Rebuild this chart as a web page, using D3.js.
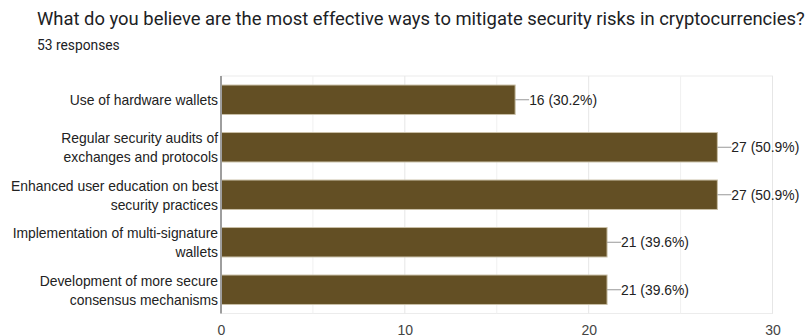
<!DOCTYPE html>
<html>
<head>
<meta charset="utf-8">
<script src="https://cdn.jsdelivr.net/npm/d3@7"></script>
<style>
  html, body { margin: 0; padding: 0; background: #fff; }
  svg { display: block; }
</style>
</head>
<body>
<svg id="chart" width="811" height="336"></svg>
<script>
const titleText = "What do you believe are the most effective ways to mitigate security risks in cryptocurrencies?";
const subtitleText = "53 responses";
const categories = [
  ["Use of hardware wallets"],
  ["Regular security audits of", "exchanges and protocols"],
  ["Enhanced user education on best", "security practices"],
  ["Implementation of multi-signature", "wallets"],
  ["Development of more secure", "consensus mechanisms"]
];
const counts = [16, 27, 27, 21, 21];
const percents = ["30.2%", "50.9%", "50.9%", "39.6%", "39.6%"];
const xTicks = [0, 10, 20, 30];
const gridTicks = [0, 5, 10, 15, 20, 25, 30];

const svg = d3.select("#chart");
const plot = { left: 221, right: 772.5, top: 76, bottom: 313.5 };
const labelFont = "Arial, 'Liberation Sans', sans-serif";

const x = d3.scaleLinear().domain([0, 30]).range([plot.left, plot.right]);
const y = d3.scaleBand().domain(d3.range(categories.length))
  .range([plot.top, plot.bottom]).paddingInner(0.38).paddingOuter(0.19);

// Title block: size the title so it spans the header width
const title = svg.append("text").attr("x", 37).attr("y", 25)
  .attr("font-family", "Roboto, sans-serif").attr("font-size", 18)
  .attr("fill", "#202124").text(titleText);
const titleWidth = title.node().getComputedTextLength();
title.attr("font-size", Math.min(19, 18 * 768 / titleWidth));
svg.append("text").attr("x", 37).attr("y", 50)
  .attr("font-family", "Roboto, sans-serif").attr("font-size", 13.8)
  .attr("fill", "#202124").text(subtitleText);

// Plot frame and grid
svg.append("rect").attr("x", plot.left).attr("y", plot.top)
  .attr("width", plot.right - plot.left).attr("height", plot.bottom - plot.top)
  .attr("fill", "none").attr("stroke", "#ececec").attr("stroke-width", 1);
svg.append("g").selectAll("line").data(gridTicks.slice(1)).join("line")
  .attr("x1", d => x(d)).attr("x2", d => x(d))
  .attr("y1", plot.top).attr("y2", plot.bottom)
  .attr("stroke", d => d % 10 === 0 ? "#e6e6e6" : "#f0f0f0").attr("stroke-width", 1);

// Bottom axis labels
const xAxis = d3.axisBottom(x).tickValues(xTicks).tickSize(0).tickPadding(6);
const gx = svg.append("g").attr("transform", `translate(0,${plot.bottom + 1})`).call(xAxis);
gx.select(".domain").remove();
gx.selectAll("text").attr("font-family", labelFont)
  .attr("font-size", 14).attr("fill", "#444").attr("dy", "1.0em");

// Bars
const bars = svg.append("g");
bars.selectAll("rect").data(counts).join("rect")
  .attr("x", x(0)).attr("y", (d, i) => y(i))
  .attr("width", d => x(d) - x(0)).attr("height", y.bandwidth())
  .attr("fill", "#634f24").attr("stroke", "#c9bfa6").attr("stroke-width", 1);

// Category labels
const labels = svg.append("g").attr("font-family", labelFont)
  .attr("font-size", 13.9).attr("fill", "#222").attr("text-anchor", "end");
categories.forEach((lines, i) => {
  const cy = y(i) + y.bandwidth() / 2;
  const lh = 18.6;
  const t = labels.append("text").attr("x", plot.left - 3);
  lines.forEach((ln, j) => {
    t.append("tspan").attr("x", plot.left - 3)
      .attr("y", cy + (j - (lines.length - 1) / 2) * lh + 5.5).text(ln);
  });
});

// Value annotations with leader lines
const ann = svg.append("g");
counts.forEach((d, i) => {
  const cy = y(i) + y.bandwidth() / 2;
  ann.append("line").attr("x1", x(d)).attr("x2", x(d) + 14)
    .attr("y1", cy).attr("y2", cy).attr("stroke", "#999").attr("stroke-width", 1);
  ann.append("text").attr("x", x(d) + 14).attr("y", cy + 5)
    .attr("font-family", labelFont).attr("font-size", 13.9)
    .attr("fill", "#222").text(`${d} (${percents[i]})`);
});

// Zero axis line
svg.append("line").attr("x1", x(0)).attr("x2", x(0))
  .attr("y1", plot.top).attr("y2", plot.bottom)
  .attr("stroke", "#9e9e9e").attr("stroke-width", 2);
</script>
</body>
</html>
